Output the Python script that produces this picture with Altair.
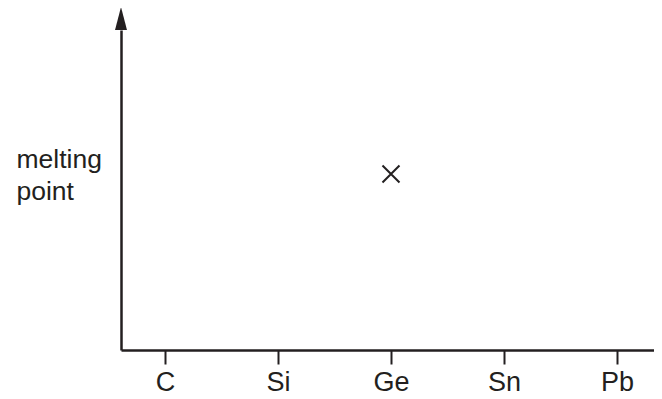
import altair as alt
import pandas as pd

elements = ["C", "Si", "Ge", "Sn", "Pb"]
marked_element = ["Ge"]
marked_value = [55]
axis_top = [100]

INK = "#231f20"
FONT = "Liberation Sans"

pts = pd.DataFrame({"element": marked_element, "mp": marked_value})
arrow_df = pd.DataFrame({"y": axis_top})

xscale = alt.Scale(type="point", domain=elements, padding=0.3584, align=0.543)
yscale = alt.Scale(domain=[0, 100])

cross = alt.Chart(pts).mark_point(
    shape="M-1,-1L1,1M-1,1L1,-1", size=289, filled=False,
    strokeWidth=2, color=INK, opacity=1
).encode(
    x=alt.X("element:N", scale=xscale, sort=elements,
            axis=alt.Axis(title=None, labelAngle=0, labelFontSize=27, labelFont=FONT,
                          labelColor=INK, tickSize=14, tickWidth=2, tickColor=INK,
                          domainWidth=2.5, domainColor=INK, labelPadding=5,
                          grid=False)),
    y=alt.Y("mp:Q", scale=yscale,
            axis=alt.Axis(title=["melting", "point"], titleAngle=0, titleAlign="left",
                          titleBaseline="alphabetic", titleX=-105, titleY=137,
                          titleFontSize=26.5, titleFont=FONT, titleFontWeight="normal",
                          titleColor=INK, titleLineHeight=32,
                          labels=False, ticks=False, grid=False,
                          domainWidth=2.5, domainColor=INK)),
)

arrow = alt.Chart(arrow_df).mark_point(
    shape="M0,-2L0.52,0L-0.52,0Z", size=529, filled=True, color=INK,
    opacity=1, strokeWidth=0
).encode(
    x=alt.value(0),
    y=alt.Y("y:Q", scale=yscale),
)

chart = alt.layer(cross, arrow).properties(
    width=533, height=320,
    autosize=alt.AutoSizeParams(type="none"),
    padding={"left": 113, "top": 22, "right": 0, "bottom": 46},
).configure_view(stroke=None)

chart.save("out.html", embed_options={"renderer": "svg", "actions": False})
